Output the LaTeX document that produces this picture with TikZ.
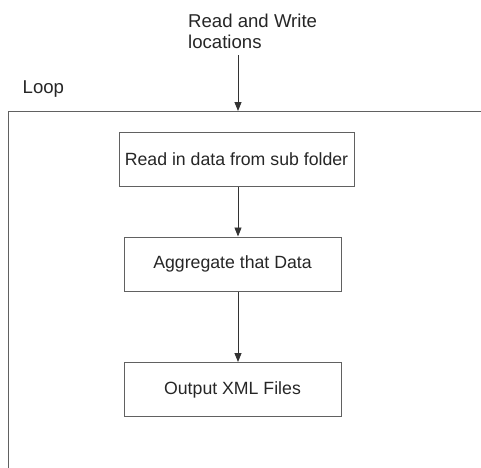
\documentclass[tikz,border=0pt]{standalone}
\usepackage{fontspec}
\setmainfont{Liberation Sans}
\usetikzlibrary{arrows.meta}
\begin{document}
\begin{tikzpicture}[x=1pt,y=-1pt,
  every node/.style={text=black!85},
  labeltext/.style={font=\fontsize{18.6}{21.5}\selectfont, inner sep=0pt},
  stepbox/.style={draw=black!62, line width=1pt, minimum height=54pt, inner sep=0pt,
    font=\fontsize{17.7}{20}\selectfont},
  flow/.style={draw=black!80, line width=0.8pt, -{Triangle[length=9pt,width=7pt]}}
]
\useasboundingbox (0,0) rectangle (481,467);
% the loop frame runs past the right and bottom edges
\begin{scope}
  \clip (0,0) rectangle (481,467);
  \draw[draw=black!62, line width=1pt] (8,111) rectangle (520,520);
\end{scope}
\coordinate (looptop) at (238,111);
\node[labeltext, anchor=north west, align=left] (rw) at (188,13.4) {Read and Write\\locations};
\coordinate (rwfoot) at (238,55);
\node[labeltext, anchor=base west] (loop) at (22.5,93) {Loop};
\node[stepbox, minimum width=235pt] (read) at (236.5,159) {Read in data from sub folder};
\node[stepbox, minimum width=217pt] (agg) at (232.5,264) {Aggregate that Data};
\node[stepbox, minimum width=217pt] (out) at (232.5,389.5) {Output XML Files};
\draw[flow] (rwfoot) -- (looptop);
\draw[flow] (read.south -| looptop) -- (agg.north -| looptop);
\draw[flow] (agg.south -| looptop) -- (out.north -| looptop);
\end{tikzpicture}
\end{document}
